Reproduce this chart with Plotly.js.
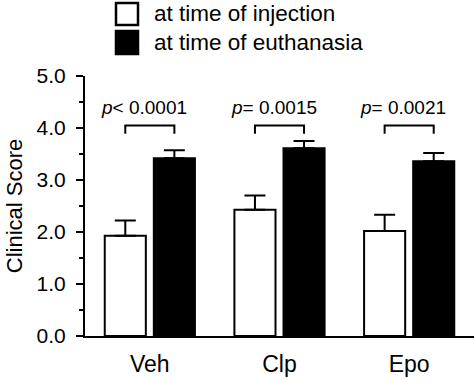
<!DOCTYPE html>
<html>
<head>
<meta charset="utf-8">
<script src="https://cdn.plot.ly/plotly-3.0.1.min.js"></script>
<style>html,body{margin:0;padding:0;background:#fff;}#chart{width:474px;height:380px;}</style>
</head>
<body>
<div id="chart"></div>
<script>
// ---- data ----
var categories = ['Veh', 'Clp', 'Epo'];
var seriesNames = ['at time of injection', 'at time of euthanasia'];
var injectionScore = [1.93, 2.43, 2.02];
var injectionErr = [0.29, 0.27, 0.31];
var euthanasiaScore = [3.42, 3.61, 3.36];
var euthanasiaErr = [0.15, 0.14, 0.16];
var pLabels = ['<i>p</i>< 0.0001', '<i>p</i>= 0.0015', '<i>p</i>= 0.0021'];
var yTickVals = [0, 1, 2, 3, 4, 5];

// ---- layout constants ----
var W = 474, H = 380;
var M = {l: 85, r: 0, t: 76, b: 44};
var FONT = 'Liberation Sans, Arial, Helvetica, sans-serif';
var BARGAP = 0.243, GROUPGAP = 0.163;
var slotHalf = (1 - BARGAP) / 4; // centre offset of each bar within a group
var bracketTop = 4.05, bracketLeg = 3.89, pY = 4.40;

function pxX(px) { return (px - M.l) / (W - M.l - M.r); }
function pxY(py) { return (H - M.b - py) / (H - M.t - M.b); }

var zeros = categories.map(function () { return 0; });

var traces = [
  {
    type: 'bar', name: seriesNames[0], x: categories, y: injectionScore,
    marker: {color: '#ffffff', line: {color: '#000000', width: 2}},
    error_y: {type: 'data', symmetric: false, array: injectionErr, arrayminus: zeros,
              color: '#000000', thickness: 2, width: 10.5},
    showlegend: false, hoverinfo: 'skip'
  },
  {
    type: 'bar', name: seriesNames[1], x: categories, y: euthanasiaScore,
    marker: {color: '#000000', line: {color: '#000000', width: 2}},
    error_y: {type: 'data', symmetric: false, array: euthanasiaErr, arrayminus: zeros,
              color: '#000000', thickness: 2, width: 10.5},
    showlegend: false, hoverinfo: 'skip'
  }
];

var shapes = [];
var annotations = [];

// significance brackets and p-values
categories.forEach(function (c, i) {
  var x0 = i - slotHalf, x1 = i + slotHalf;
  shapes.push({
    type: 'path', xref: 'x', yref: 'y',
    path: 'M' + x0 + ',' + bracketLeg + ' L' + x0 + ',' + bracketTop + ' L' + x1 + ',' + bracketTop + ' L' + x1 + ',' + bracketLeg,
    line: {color: '#000000', width: 2}
  });
  annotations.push({
    xref: 'x', yref: 'y', x: i, y: pY, text: pLabels[i], showarrow: false,
    xanchor: 'center', yanchor: 'middle', xshift: -6,
    font: {family: FONT, size: 19, color: '#000000'}
  });
});

// custom legend (large square swatches)
var legendRows = [
  {name: seriesNames[0], fill: '#ffffff', top: 3, bottom: 25, textY: 14},
  {name: seriesNames[1], fill: '#000000', top: 31, bottom: 54, textY: 42}
];
legendRows.forEach(function (r) {
  shapes.push({
    type: 'rect', xref: 'paper', yref: 'paper',
    x0: pxX(116), x1: pxX(138), y0: pxY(r.bottom), y1: pxY(r.top),
    fillcolor: r.fill, line: {color: '#000000', width: 2.5}
  });
  annotations.push({
    xref: 'paper', yref: 'paper', x: pxX(152), y: pxY(r.textY),
    text: r.name, showarrow: false, xanchor: 'left', yanchor: 'middle',
    font: {family: FONT, size: 22.5, color: '#000000'}
  });
});

var layout = {
  width: W, height: H,
  margin: M,
  paper_bgcolor: '#ffffff', plot_bgcolor: '#ffffff',
  font: {family: FONT, color: '#000000'},
  barmode: 'group', bargap: BARGAP, bargroupgap: GROUPGAP,
  showlegend: false,
  xaxis: {
    type: 'category', showline: true, linecolor: '#000000', linewidth: 2,
    ticks: '', showgrid: false, zeroline: false,
    tickfont: {family: FONT, size: 23, color: '#000000'},
    ticklabelstandoff: 6,
    fixedrange: true
  },
  yaxis: {
    range: [0, 5], tickvals: yTickVals, tickformat: '.1f',
    showline: true, linecolor: '#000000', linewidth: 2,
    ticks: 'outside', ticklen: 7, tickwidth: 2, tickcolor: '#000000',
    minor: {dtick: 0.5, ticks: 'outside', ticklen: 4, tickwidth: 2, tickcolor: '#000000'},
    showgrid: false, zeroline: false,
    tickfont: {family: FONT, size: 21, color: '#000000'},
    ticklabelstandoff: 6,
    title: {text: 'Clinical Score', font: {family: FONT, size: 22, color: '#000000'}, standoff: 8},
    fixedrange: true
  },
  shapes: shapes,
  annotations: annotations
};

Plotly.newPlot('chart', traces, layout, {displayModeBar: false, staticPlot: true});
</script>
</body>
</html>
